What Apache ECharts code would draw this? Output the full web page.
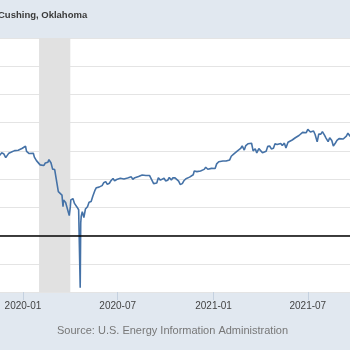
<!DOCTYPE html>
<html>
<head>
<meta charset="utf-8">
<script src="https://cdn.jsdelivr.net/npm/echarts@6/dist/echarts.min.js"></script>
<style>
  html, body { margin: 0; padding: 0; }
  #chart { width: 350px; height: 350px; }
</style>
</head>
<body>
<div id="chart"></div>
<script>
// WTI spot price, Cushing OK (dollars per barrel)
var dates = [
  "2019-11-14","2019-11-18","2019-11-21","2019-11-25","2019-11-29","2019-12-02","2019-12-05","2019-12-09",
  "2019-12-12","2019-12-16","2019-12-19","2019-12-23","2019-12-26","2019-12-30",
  "2020-01-02","2020-01-06","2020-01-08","2020-01-10","2020-01-13","2020-01-16","2020-01-21","2020-01-23",
  "2020-01-27","2020-01-30","2020-02-03","2020-02-06","2020-02-10","2020-02-13","2020-02-18","2020-02-20",
  "2020-02-24","2020-02-27","2020-03-02","2020-03-05","2020-03-09","2020-03-12","2020-03-16","2020-03-18",
  "2020-03-19","2020-03-23","2020-03-26","2020-03-30","2020-04-01","2020-04-02","2020-04-06","2020-04-09",
  "2020-04-14","2020-04-16","2020-04-17","2020-04-20","2020-04-21","2020-04-22","2020-04-24","2020-04-27",
  "2020-04-28","2020-04-30","2020-05-04","2020-05-07","2020-05-11","2020-05-14","2020-05-18","2020-05-21",
  "2020-05-26","2020-05-28","2020-06-01","2020-06-04","2020-06-08","2020-06-11","2020-06-15","2020-06-18",
  "2020-06-22","2020-06-25","2020-06-29","2020-07-02","2020-07-06","2020-07-09","2020-07-13","2020-07-16",
  "2020-07-20","2020-07-23","2020-07-27","2020-07-30","2020-08-03","2020-08-06","2020-08-10","2020-08-13",
  "2020-08-17","2020-08-20","2020-08-24","2020-08-27","2020-08-31","2020-09-03","2020-09-08","2020-09-10",
  "2020-09-14","2020-09-17","2020-09-21","2020-09-24","2020-09-28","2020-10-01","2020-10-05","2020-10-08",
  "2020-10-12","2020-10-15","2020-10-19","2020-10-22","2020-10-26","2020-10-29","2020-11-02","2020-11-05",
  "2020-11-09","2020-11-12","2020-11-16","2020-11-19","2020-11-23","2020-11-25","2020-11-30","2020-12-03",
  "2020-12-07","2020-12-10","2020-12-14","2020-12-17","2020-12-21","2020-12-24","2020-12-28","2020-12-31",
  "2021-01-04","2021-01-07","2021-01-11","2021-01-14","2021-01-19","2021-01-22","2021-01-25","2021-01-28",
  "2021-02-01","2021-02-04","2021-02-08","2021-02-11","2021-02-16","2021-02-19","2021-02-22","2021-02-25",
  "2021-03-01","2021-03-04","2021-03-08","2021-03-11","2021-03-15","2021-03-18","2021-03-22","2021-03-25",
  "2021-03-29","2021-04-01","2021-04-05","2021-04-08","2021-04-12","2021-04-15","2021-04-19","2021-04-22",
  "2021-04-26","2021-04-29","2021-05-03","2021-05-06","2021-05-10","2021-05-13","2021-05-17","2021-05-20",
  "2021-05-24","2021-05-27","2021-06-01","2021-06-03","2021-06-07","2021-06-10","2021-06-14","2021-06-17",
  "2021-06-21","2021-06-24","2021-06-28","2021-07-01","2021-07-06","2021-07-08","2021-07-12","2021-07-15",
  "2021-07-19","2021-07-22","2021-07-26","2021-07-29","2021-08-02","2021-08-05","2021-08-09","2021-08-12",
  "2021-08-16","2021-08-19","2021-08-20","2021-08-23","2021-08-26","2021-08-30","2021-09-02","2021-09-07",
  "2021-09-09","2021-09-13","2021-09-16","2021-09-20","2021-09-23"
];
var prices = [
  56.8, 57.1, 58.6, 58.0, 55.2, 56.0, 58.4, 59.0,
  59.2, 60.2, 61.2, 60.5, 61.7, 61.7,
  61.2, 63.3, 59.6, 59.0, 58.1, 58.5, 58.3, 55.6,
  53.1, 52.1, 50.1, 51.0, 49.6, 51.4, 52.0, 53.8,
  51.4, 47.1, 46.8, 45.9, 31.1, 31.7, 28.7, 20.4,
  25.2, 23.4, 22.6, 14.1, 20.3, 25.3, 26.2, 22.8,
  20.1, 19.9, 18.3, -37.0, 8.9, 13.8, 16.9, 12.8,
  12.3, 18.8, 20.4, 23.6, 24.1, 27.6, 31.8, 33.9,
  34.3, 33.7, 35.4, 37.4, 38.2, 36.3, 37.1, 38.8,
  40.5, 38.7, 39.7, 40.7, 40.6, 39.6, 40.1, 40.8,
  40.8, 41.1, 41.6, 39.9, 41.0, 41.9, 41.9, 42.2,
  42.9, 42.8, 42.6, 43.0, 42.6, 41.4, 36.8, 37.3,
  37.3, 40.9, 39.3, 40.3, 40.6, 38.7, 39.2, 41.2,
  39.4, 40.9, 40.9, 40.6, 38.6, 36.2, 36.8, 38.8,
  40.3, 41.1, 41.4, 41.9, 43.1, 45.7, 45.3, 45.6,
  45.8, 46.8, 46.9, 48.4, 47.0, 48.2, 47.6, 48.5,
  47.5, 50.8, 52.3, 53.6, 52.8, 52.3, 52.8, 52.4,
  53.6, 56.2, 57.5, 58.2, 60.0, 59.2, 61.7, 63.5,
  60.6, 63.8, 65.0, 66.0, 65.4, 60.0, 61.5, 58.6,
  61.6, 61.5, 58.7, 59.6, 59.7, 63.2, 63.4, 61.4,
  61.9, 65.0, 64.5, 64.7, 65.3, 63.8, 65.5, 62.1,
  66.1, 66.8, 67.7, 68.8, 69.3, 70.3, 70.9, 71.0,
  73.1, 73.3, 72.9, 75.2, 73.4, 72.9, 74.1, 71.6,
  66.4, 71.9, 71.9, 73.6, 71.2, 69.1, 66.5, 69.3,
  67.3, 63.5, 62.3, 65.6, 67.4, 68.7, 69.9, 68.4,
  68.1, 70.5, 72.6, 70.3, 73.3
];
var tickDates = ["2020-01-01", "2020-07-01", "2021-01-01", "2021-07-01"];
var tickLabels = ["2020-01", "2020-07", "2021-01", "2021-07"];
var recession = ["2020-02-01", "2020-04-01"];
var xRange = ["2019-11-18", "2021-09-20"];

function ts(d) { return Date.parse(d + "T00:00:00Z"); }

var chart = echarts.init(document.getElementById("chart"));
var ticks = tickDates.map(ts);
var font = "Liberation Sans, Arial, sans-serif";

chart.setOption({
  animation: false,
  backgroundColor: "#e1e8f0",
  title: {
    text: "Cushing, Oklahoma",
    left: -2,
    top: 10,
    padding: 0,
    textStyle: { fontSize: 9.5, fontWeight: "bold", color: "#3a3a3a", fontFamily: font }
  },
  graphic: [{
    type: "text",
    left: 57,
    top: 325,
    style: {
      text: "Source: U.S. Energy Information Administration",
      fontSize: 11,
      fill: "#777",
      fontFamily: font
    }
  }],
  grid: {
    left: 0, right: 0, top: 38, bottom: 58,
    show: true, backgroundColor: "#fff", borderWidth: 0
  },
  xAxis: {
    type: "value",
    min: ts(xRange[0]),
    max: ts(xRange[1]),
    axisLine: { show: false, onZero: false },
    splitLine: { show: false },
    axisTick: {
      show: true, length: 8,
      customValues: ticks,
      lineStyle: { color: "#c5d1df" }
    },
    axisLabel: {
      customValues: ticks,
      margin: 9,
      fontSize: 10,
      color: "#444",
      fontFamily: font,
      formatter: function (v) { return tickLabels[ticks.indexOf(v)] || ""; }
    }
  },
  yAxis: {
    type: "value",
    min: -40, max: 140, interval: 20,
    axisLabel: { show: false },
    axisLine: { show: false },
    axisTick: { show: false },
    splitLine: { lineStyle: { color: "#e4e4e4", width: 1 } }
  },
  series: [{
    type: "line",
    data: dates.map(function (d, i) { return [ts(d), prices[i]]; }),
    showSymbol: false,
    lineStyle: { color: "#4572a7", width: 1.6 },
    markArea: {
      silent: true,
      itemStyle: { color: "#e1e1e1" },
      data: [[{ xAxis: ts(recession[0]) }, { xAxis: ts(recession[1]) }]]
    },
    markLine: {
      silent: true,
      symbol: "none",
      label: { show: false },
      lineStyle: { color: "#000", width: 1.5, type: "solid" },
      data: [{ yAxis: 0 }]
    }
  }]
});
</script>
</body>
</html>
